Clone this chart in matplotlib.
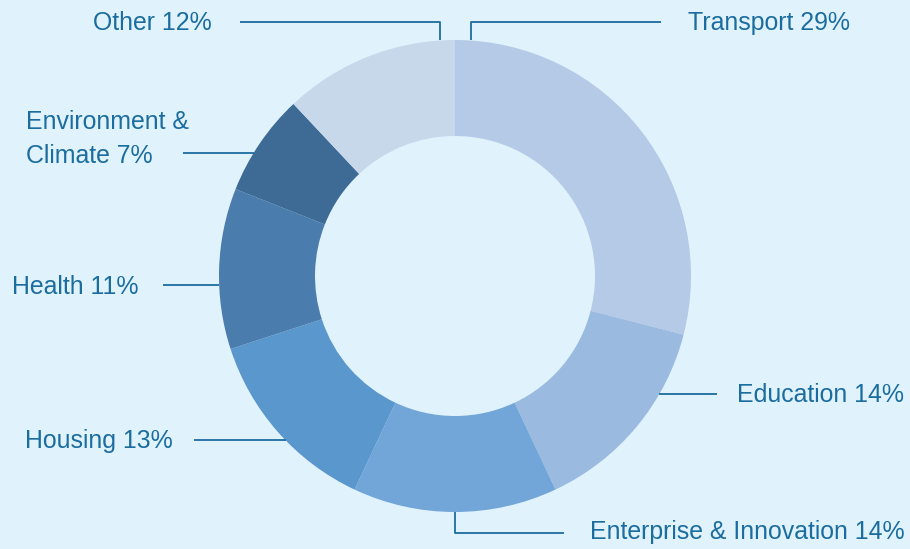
import matplotlib
matplotlib.use("Agg")
import matplotlib.pyplot as plt

# spending share by sector
sectors = ["Transport", "Education", "Enterprise & Innovation", "Housing",
           "Health", "Environment &\nClimate", "Other"]
shares = [29, 14, 14, 13, 11, 7, 12]
colors = ["#b5cae6", "#9abadf", "#72a6d8", "#5a97cd", "#4a7cae", "#3d6b96", "#c8d8eb"]

bg = "#e0f2fc"
ink = "#1b6d9f"

fig = plt.figure(figsize=(9.1, 5.49), dpi=100, facecolor=bg)
ax = fig.add_axes([0, 0, 1, 1])
ax.set_facecolor(bg)

cx, cy, r_out, r_in = 455, 276, 236, 140
ax.pie(shares, colors=colors, startangle=-90, counterclock=True,
       radius=r_out, center=(cx, cy),
       wedgeprops=dict(width=r_out - r_in, linewidth=0))
ax.set_xlim(0, 910)
ax.set_ylim(549, 0)
ax.axis("off")

# leader lines (pixel layout) and label anchors
leaders = [
    [(471, 40), (471, 22), (661, 22)],
    [(659, 394), (717, 394)],
    [(455, 512), (455, 533), (564, 533)],
    [(286, 440), (194, 440)],
    [(219, 285), (163, 285)],
    [(254, 153), (183, 153)],
    [(440, 40), (440, 22), (240, 22)],
]
anchors = [(688, 23, "left"), (737, 395, "left"), (590, 532, "left"),
           (25, 441, "left"), (12, 287, "left"), (26, 139, "left"),
           (212, 23, "right")]

for name, val, pts, (tx, ty, ha) in zip(sectors, shares, leaders, anchors):
    xs = [p[0] for p in pts]
    ys = [p[1] for p in pts]
    ax.plot(xs, ys, color=ink, lw=1.3, solid_capstyle="butt")
    ax.text(tx, ty, f"{name} {val}%", ha=ha, va="center", fontsize=17.9,
            color=ink, family="Liberation Sans", linespacing=1.55)

fig.savefig("out.png", dpi=100, facecolor=bg)
